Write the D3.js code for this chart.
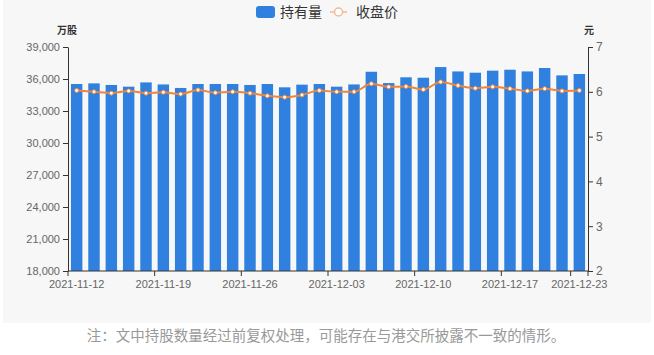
<!DOCTYPE html>
<html>
<head>
<meta charset="utf-8">
<script src="https://cdn.jsdelivr.net/npm/d3@7"></script>
<style>
  body { margin: 0; background: #fff; font-family: "Noto Sans CJK SC", "Liberation Sans", sans-serif; }
</style>
</head>
<body>
<div id="chart-area"></div>
<script>
// Data
const dates = ['2021-11-12', '2021-11-15', '2021-11-16', '2021-11-17', '2021-11-18', '2021-11-19',
    '2021-11-22', '2021-11-23', '2021-11-24', '2021-11-25', '2021-11-26',
    '2021-11-29', '2021-11-30', '2021-12-01', '2021-12-02', '2021-12-03',
    '2021-12-06', '2021-12-07', '2021-12-08', '2021-12-09', '2021-12-10',
    '2021-12-13', '2021-12-14', '2021-12-15', '2021-12-16', '2021-12-17',
    '2021-12-20', '2021-12-21', '2021-12-22', '2021-12-23'];
const holding = [35530, 35590, 35440, 35280, 35680, 35490, 35160, 35530, 35530, 35530,
    35440, 35530, 35220, 35470, 35530, 35280, 35490, 36680, 35620, 36160,
    36120, 37120, 36710, 36590, 36780, 36870, 36710, 37030, 36340, 36470];
const price = [6.03, 6.00, 5.97, 6.02, 5.97, 5.99, 5.95, 6.04, 5.98, 6.00,
    5.97, 5.91, 5.88, 5.93, 6.03, 6.00, 6.00, 6.18, 6.11, 6.12,
    6.05, 6.22, 6.14, 6.08, 6.11, 6.07, 6.02, 6.07, 6.02, 6.03];
const leftTicks = [18000, 21000, 24000, 27000, 30000, 33000, 36000, 39000];
const rightTicks = [2, 3, 4, 5, 6, 7];
const labelDates = ['2021-11-12', '2021-11-19', '2021-11-26', '2021-12-03', '2021-12-10', '2021-12-17', '2021-12-23'];

const barColor = '#3080e0';
const lineColor = '#f08538';

// Margins
const margin = { left: 68, right: 66, top: 47, bottom: 84 };
const W = 654, H = 355;
const width = W - margin.left - margin.right;
const height = 271 - margin.top;

const svg = d3.select('#chart-area')
    .append('svg')
    .attr('width', W)
    .attr('height', H);

// background panel
svg.append('rect')
    .attr('x', 3).attr('y', 0)
    .attr('width', 648).attr('height', 323)
    .attr('fill', '#f7f7f7');

const g = svg.append('g')
    .attr('transform', 'translate(' + margin.left + ', ' + margin.top + ')');

// Scales
const x = d3.scaleBand()
    .domain(dates)
    .range([0, width])
    .paddingInner(0.34)
    .paddingOuter(0.17);

const y = d3.scaleLinear()
    .domain([18000, 39000])
    .range([height, 0]);

const y2 = d3.scaleLinear()
    .domain([2, 7])
    .range([height, 0]);

// Bars
g.selectAll('rect.bar')
    .data(holding)
    .enter()
    .append('rect')
    .attr('class', 'bar')
    .attr('x', (d, i) => x(dates[i]))
    .attr('y', (d) => y(d))
    .attr('width', x.bandwidth())
    .attr('height', (d) => height - y(d))
    .attr('fill', barColor);

// Line
const cx = (i) => x(dates[i]) + x.bandwidth() / 2;
const line = d3.line()
    .x((d, i) => cx(i))
    .y((d) => y2(d))
    .curve(d3.curveMonotoneX);

g.append('path')
    .datum(price)
    .attr('fill', 'none')
    .attr('stroke', lineColor)
    .attr('stroke-width', 2)
    .attr('d', line);

g.selectAll('circle.dot')
    .data(price)
    .enter()
    .append('circle')
    .attr('class', 'dot')
    .attr('cx', (d, i) => cx(i))
    .attr('cy', (d) => y2(d))
    .attr('r', 2)
    .attr('fill', '#fff')
    .attr('stroke', lineColor)
    .attr('stroke-width', 1);

// Axes
const axisColor = '#333';
const labelColor = '#666';

const leftAxis = g.append('g')
    .call(d3.axisLeft(y).tickValues(leftTicks).tickFormat(d3.format(',')).tickSize(5).tickSizeOuter(0));
const rightAxis = g.append('g')
    .attr('transform', 'translate(' + width + ', 0)')
    .call(d3.axisRight(y2).tickValues(rightTicks).tickFormat(d3.format('d')).tickSize(5).tickSizeOuter(0));

// x axis: ticks at band boundaries, labels at centers
const step = x.step();
const xAxis = g.append('g')
    .attr('transform', 'translate(0, ' + height + ')');
xAxis.append('line')
    .attr('x1', 0).attr('x2', width)
    .attr('stroke', axisColor);
labelDates.forEach((d) => {
    const i = dates.indexOf(d);
    xAxis.append('line')
        .attr('x1', i * step).attr('x2', i * step)
        .attr('y1', 0).attr('y2', 5)
        .attr('stroke', axisColor);
    xAxis.append('text')
        .attr('x', cx(i))
        .attr('y', 17)
        .attr('text-anchor', 'middle')
        .attr('font-size', '11px')
        .attr('fill', labelColor)
        .text(d);
});
xAxis.append('line')
    .attr('x1', width).attr('x2', width)
    .attr('y1', 0).attr('y2', 5)
    .attr('stroke', axisColor);

[leftAxis, rightAxis].forEach((a) => {
    a.select('.domain').attr('stroke', axisColor);
    a.selectAll('.tick line').attr('stroke', axisColor);
    a.selectAll('.tick text')
        .attr('fill', labelColor)
        .attr('font-size', '11px')
        .attr('font-family', '"Liberation Sans", sans-serif');
});
rightAxis.selectAll('.tick text').attr('font-size', '12px');
xAxis.selectAll('text').attr('font-family', '"Liberation Sans", sans-serif');

// Axis names
svg.append('text')
    .attr('x', 67).attr('y', 34)
    .attr('text-anchor', 'middle')
    .attr('font-size', '10px')
    .attr('font-weight', 'bold')
    .attr('fill', '#333')
    .text('万股');
svg.append('text')
    .attr('x', 589).attr('y', 34)
    .attr('text-anchor', 'middle')
    .attr('font-size', '10px')
    .attr('font-weight', 'bold')
    .attr('fill', '#333')
    .text('元');

// Legend
const legend = svg.append('g');
legend.append('rect')
    .attr('x', 256).attr('y', 6)
    .attr('width', 19).attr('height', 12)
    .attr('rx', 3)
    .attr('fill', barColor);
legend.append('text')
    .attr('x', 280).attr('y', 17)
    .attr('font-size', '14px')
    .attr('fill', '#333')
    .text('持有量');
legend.append('line')
    .attr('x1', 330).attr('x2', 347)
    .attr('y1', 12).attr('y2', 12)
    .attr('stroke', '#f3b894')
    .attr('stroke-width', 1.5);
legend.append('circle')
    .attr('cx', 338.5).attr('cy', 12)
    .attr('r', 4)
    .attr('fill', '#fff')
    .attr('stroke', '#f3b894')
    .attr('stroke-width', 1.5);
legend.append('text')
    .attr('x', 356).attr('y', 17)
    .attr('font-size', '14px')
    .attr('fill', '#333')
    .text('收盘价');

// Note
svg.append('text')
    .attr('x', 326).attr('y', 341)
    .attr('text-anchor', 'middle')
    .attr('font-size', '14.5px')
    .attr('fill', '#999')
    .text('注：文中持股数量经过前复权处理，可能存在与港交所披露不一致的情形。');
</script>
</body>
</html>
